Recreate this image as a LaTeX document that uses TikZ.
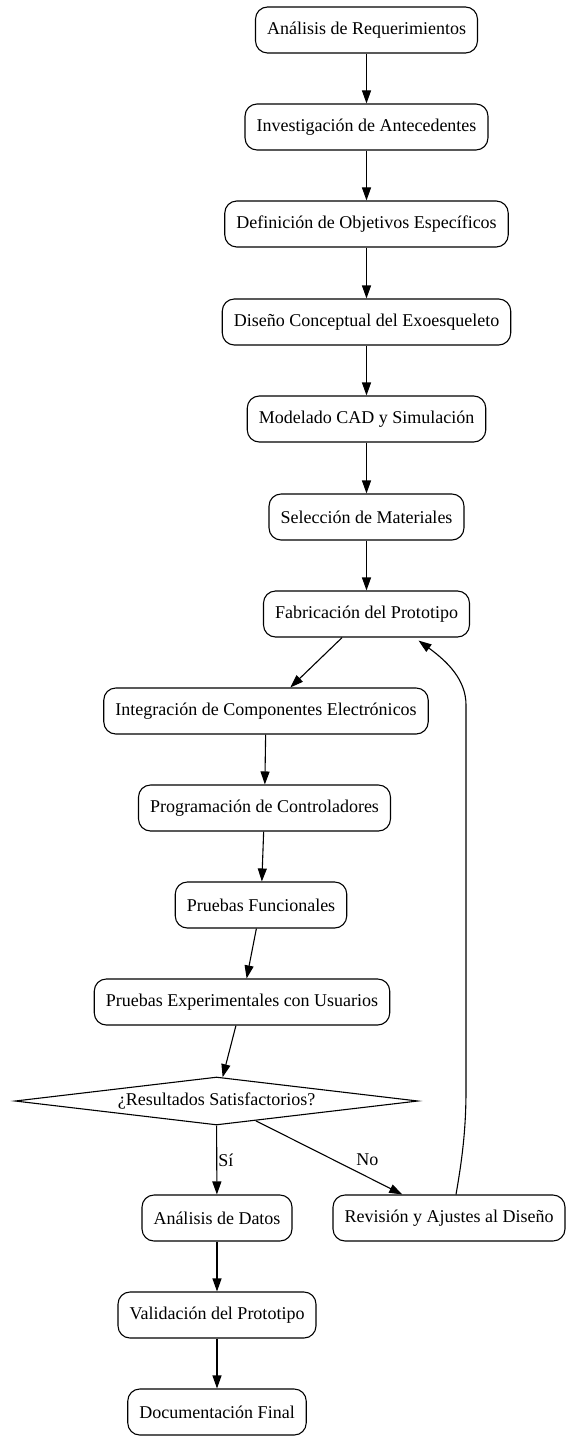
\documentclass[tikz,border=0pt]{standalone}
\usepackage{fontspec}
\setmainfont{Liberation Serif}
\usetikzlibrary{arrows.meta,shapes.geometric}
\begin{document}
\begin{tikzpicture}[x=1pt,y=-1pt,
  font=\fontsize{18}{21}\selectfont,
  box/.style={draw, line width=1.1pt, rounded corners=12pt, minimum height=46pt, inner xsep=11.5pt, inner ysep=2pt},
  dec/.style={draw, line width=1.1pt, diamond, aspect=8.4, minimum width=403pt, minimum height=48pt, inner sep=0pt},
  arr/.style={draw, line width=1.1pt, -{Triangle[length=13pt,width=9pt]}},
  lbl/.style={inner sep=1pt}]
\useasboundingbox (0,0) rectangle (570,1442);
\node[box] (n1) at (366.5,30) {Análisis de Requerimientos};
\node[box] (n2) at (366.5,127) {Investigación de Antecedentes};
\node[box] (n3) at (366.5,224) {Definición de Objetivos Específicos};
\node[box] (n4) at (366.5,322) {Diseño Conceptual del Exoesqueleto};
\node[box] (n5) at (366.5,419) {Modelado CAD y Simulación};
\node[box] (n6) at (366.5,517) {Selección de Materiales};
\node[box] (n7) at (366.5,614) {Fabricación del Prototipo};
\node[box] (n8) at (266,711) {Integración de Componentes Electrónicos};
\node[box] (n9) at (264.5,808) {Programación de Controladores};
\node[box] (n10) at (261,905) {Pruebas Funcionales};
\node[box] (n11) at (242,1002) {Pruebas Experimentales con Usuarios};
\node[dec] (n12) at (216.5,1101) {¿Resultados Satisfactorios?};
\node[box] (n13) at (217,1218) {Análisis de Datos};
\node[box] (n14) at (449,1218) {Revisión y Ajustes al Diseño};
\node[box] (n15) at (217,1315) {Validación del Prototipo};
\node[box] (n16) at (217,1412) {Documentación Final};
\draw[arr] (n1) -- (n2);
\draw[arr] (n2) -- (n3);
\draw[arr] (n3) -- (n4);
\draw[arr] (n4) -- (n5);
\draw[arr] (n5) -- (n6);
\draw[arr] (n6) -- (n7);
\draw[arr] (n7) -- (n8);
\draw[arr] (n8) -- (n9);
\draw[arr] (n9) -- (n10);
\draw[arr] (n10) -- (n11);
\draw[arr] (n11) -- (n12);
\draw[arr] (n12) -- node[lbl, anchor=west] {Sí} (n13);
\draw[arr] (n12) -- node[lbl, pos=0.53, xshift=34pt] {No} (n14);
\draw[arr] (n13) -- (n15);
\draw[arr] (n15) -- (n16);
\draw[arr] ([xshift=7pt]n14.north) .. controls (462,1160) and (466,1130) .. (466,1090)
  -- (466,705) .. controls (466,680) and (448,662) .. ([xshift=52pt,yshift=-3pt]n7.south);
\end{tikzpicture}
\end{document}
